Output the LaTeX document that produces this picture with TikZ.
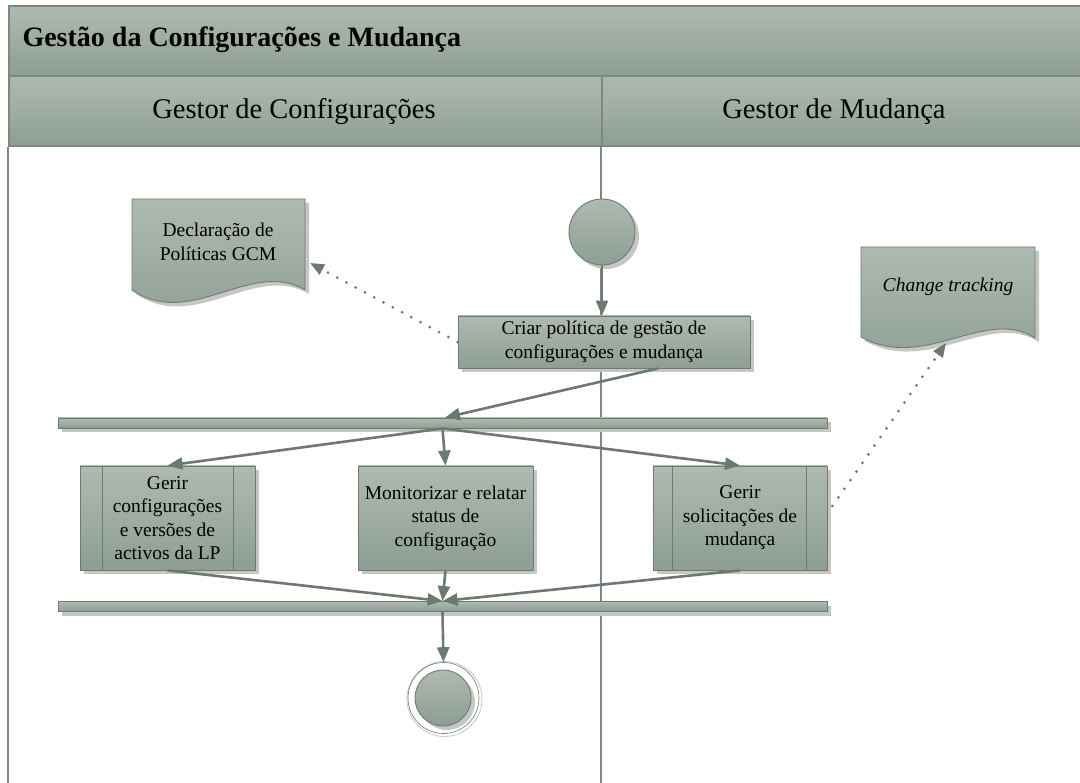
\documentclass[tikz,border=0pt]{standalone}
\usepackage{fontspec}
\setmainfont{Liberation Serif}
\usetikzlibrary{arrows.meta,shadows,calc}
\definecolor{gtop}{HTML}{AEBAB0}
\definecolor{gbot}{HTML}{8E9E93}
\definecolor{gline}{HTML}{6D7C71}
\definecolor{arr}{HTML}{6A7A6E}
\definecolor{lane}{HTML}{7C897F}
\definecolor{shade}{HTML}{C6C6C6}
\tikzset{
  x=1pt, y=-1pt,
  fillg/.style={top color=gtop, bottom color=gbot, draw=gline, line width=0.9pt},
  shad/.style={drop shadow={shadow xshift=4pt, shadow yshift=-4pt, fill=shade, opacity=1}},
  band/.style={top color=gtop, bottom color=gbot, draw=lane, line width=1.6pt, anchor=north west, inner sep=0pt},
  lanerule/.style={draw=lane, line width=1.6pt},
  boxfont/.style={font=\fontsize{19.5}{23.5}\selectfont},
  act/.style={fillg, shad, rectangle, align=center, inner sep=0pt, boxfont},
  bar/.style={fillg, shad, rectangle, minimum width=769, minimum height=10, inner sep=0pt},
  flow/.style={draw=arr, line width=2.6pt, -{Triangle[length=15pt, width=12pt]}},
  dots/.style={draw=arr, line width=3pt, line cap=round, dash pattern=on 0pt off 10.5pt, -{Triangle[length=14pt, width=11pt]}},
  doc/.style={top color=gtop, bottom color=gbot, draw=gline, line width=0.9pt},
  docshadow/.style={fill=shade},
}
\begin{document}
\begin{tikzpicture}
\useasboundingbox (0,0) rectangle (1080,783);

% pool header and lane headers
\node[band, minimum width=1085, minimum height=70] (pool) at (8,5) {};
\node[anchor=west, font=\bfseries\fontsize{28}{32}\selectfont] (title) at (19,40) {Gestão da Configurações e Mudança};
\node[band, minimum width=593, minimum height=70] (laneA) at (8,75) {};
\node[band, minimum width=490, minimum height=70] (laneB) at (601,75) {};
\node[font=\fontsize{28.5}{32}\selectfont] (laneAtext) at (294,112) {Gestor de Configurações};
\node[font=\fontsize{28.5}{32}\selectfont] (laneBtext) at (834,112) {Gestor de Mudança};
\draw[lanerule] (laneA.south west) -- (8,790);
\draw[lanerule] (laneB.south west) -- (601,790);

% documents
\fill[docshadow] (136,203) -- (309,203) -- (309,294) .. controls (255,262) and (195,334) .. (136,294) -- cycle;
\path[doc] (132,199) -- (305,199) -- (305,290) .. controls (251,258) and (191,330) .. (132,290) -- cycle;
\node[align=center, boxfont] (decl) at (218,242) {Declaração de\\Políticas GCM};
\coordinate (declin) at (310,263);

\fill[docshadow] (865,251) -- (1039,251) -- (1039,342) .. controls (989,310) and (929,376) .. (865,341) -- cycle;
\path[doc] (861,247) -- (1035,247) -- (1035,338) .. controls (985,306) and (925,372) .. (861,337) -- cycle;
\node[font=\itshape\fontsize{19.5}{23.5}\selectfont] (chg) at (948,287) {Change tracking};
\coordinate (chgin) at (946,343);

% flow nodes
\node[circle, fillg, shad, minimum size=66, inner sep=0pt] (start) at (602,232) {};
\node[act, minimum width=292, minimum height=52] (criar) at (604,342) {Criar política de gestão de\\configurações e mudança};
\node[bar] (fork) at (442.5,423) {};
\node[act, minimum width=175, minimum height=104] (gc) at (167.5,518) {Gerir\\configurações\\e versões de\\activos da LP};
\node[act, minimum width=175, minimum height=104] (mon) at (445.5,518) {Monitorizar e relatar\\status de\\configuração};
\node[act, minimum width=174, minimum height=104] (gs) at (740,518) {Gerir\\solicitações de\\mudança};
\node[bar] (join) at (442.5,606.5) {};
\node[circle, draw=shade, line width=0.8pt, minimum size=75, inner sep=0pt] (endring) at (444.5,699) {};
\node[circle, draw=gline, line width=0.6pt, minimum size=71, inner sep=0pt] (endring2) at (443.5,698) {};
\node[circle, fillg, shad, minimum size=56, inner sep=0pt] (endc) at (443,698) {};

% sub-process side bars
\draw[gline, line width=0.9pt] ($(gc.north west)+(23,0)$) -- ($(gc.south west)+(23,0)$);
\draw[gline, line width=0.9pt] ($(gc.north east)+(-22,0)$) -- ($(gc.south east)+(-22,0)$);
\draw[gline, line width=0.9pt] ($(gs.north west)+(20,0)$) -- ($(gs.south west)+(20,0)$);
\draw[gline, line width=0.9pt] ($(gs.north east)+(-21,0)$) -- ($(gs.south east)+(-21,0)$);

% control flow
\draw[flow] (start.south) -- (start.south |- criar.north);
\draw[flow] ($(criar.south)+(54,0)$) -- ($(fork.north)+(2.5,0)$);
\draw[flow] (fork.south) -- (gc.north);
\draw[flow] (fork.south) -- (mon.north);
\draw[flow] (fork.south) -- (gs.north);
\draw[flow] (gc.south) -- (join.north);
\draw[flow] (mon.south) -- (join.north);
\draw[flow] (gs.south) -- (join.north);
\draw[flow] (join.south) -- (endring2.north);

% object flows
\draw[dots] (criar.west) -- (declin);
\draw[dots] ($(gs.east)+(5,-12)$) -- (chgin);
\end{tikzpicture}
\end{document}
